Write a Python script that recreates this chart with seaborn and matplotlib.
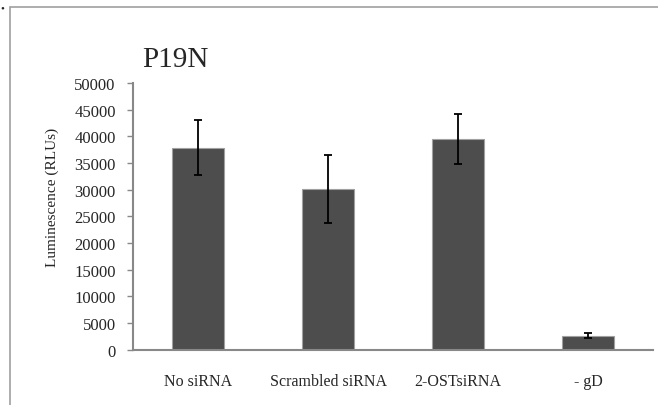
import matplotlib
matplotlib.use("Agg")
import matplotlib.pyplot as plt
import seaborn as sns
import pandas as pd
from matplotlib.patches import Rectangle

# valores
grupos = ["No siRNA", "Scrambled siRNA", "2-OSTsiRNA", "- gD"]
medias = [37900, 30100, 39500, 2650]
erros = [5100, 6400, 4750, 550]

df = pd.DataFrame({"grupo": grupos, "rlu": medias})

sns.set_theme(style="white")
plt.rcParams["font.family"] = ["Liberation Serif", "DejaVu Serif"]

fig = plt.figure(figsize=(6.58, 4.06), dpi=100)
ax = fig.add_axes([133 / 658, 1 - 350.7 / 406, 520 / 658, (350.7 - 84) / 406])

sns.barplot(data=df, x="grupo", y="rlu", color="#4d4d4d", width=0.4,
            saturation=1, errorbar=None, edgecolor="#a0a0a0", linewidth=0.8, ax=ax)
ax.errorbar(range(len(grupos)), medias, yerr=erros, fmt="none",
            ecolor="black", elinewidth=1.3, capsize=3.2, capthick=1.3)

ax.set_ylim(0, 50000)
ax.set_xlim(-0.5, 3.5)
ax.set_yticks(range(0, 50001, 5000))
ax.tick_params(axis="y", labelsize=12, direction="out", length=4.5, width=1,
               color="#888888", pad=8, left=True)
ax.tick_params(axis="x", labelsize=11.5, length=0, pad=17)
ax.set_xlabel("")
ax.set_ylabel("Luminescence (RLUs)", fontsize=11)
ax.yaxis.set_label_coords(-0.142, 0.573)

for lado in ["top", "right"]:
    ax.spines[lado].set_visible(False)
for lado in ["left", "bottom"]:
    ax.spines[lado].set_color("#888888")
    ax.spines[lado].set_linewidth(1.5)

ax.text(0.018, 1.09, "P19N", transform=ax.transAxes, fontsize=21,
        ha="left", va="center")

# moldura do painel
fig.patches.append(Rectangle((10 / 658, -0.2), 1.2, 0.2 + (406 - 8.3) / 406,
                             transform=fig.transFigure, fill=False,
                             edgecolor="#a0a0a0", linewidth=1.2))
fig.text(0.0, 1 - 9 / 406, "•", fontsize=8, ha="left", va="center")

fig.savefig("out.png", dpi=100)
